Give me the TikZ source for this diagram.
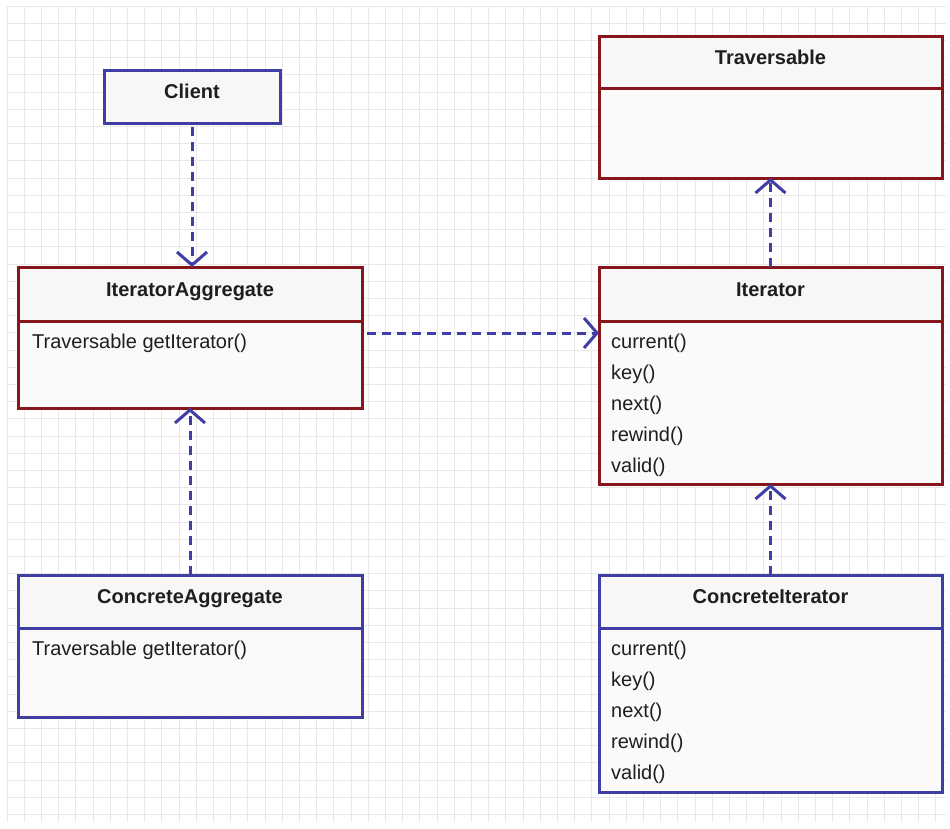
\documentclass[tikz,border=0pt]{standalone}
\usepackage{fontspec}
\setmainfont{Liberation Sans}
\usetikzlibrary{arrows.meta,positioning}

\definecolor{umlblue}{RGB}{62,62,165}
\definecolor{umlred}{RGB}{135,22,28}
\definecolor{umltext}{RGB}{30,30,30}

\begin{document}
\begin{tikzpicture}[
  x=1pt, y=-1pt,
  gridline/.style={draw=black!9, line width=0.8pt},
  head/.style={draw, line width=3pt, fill=white!97!black, minimum width=344pt,
    minimum height=54pt, inner sep=0pt, outer sep=0pt, text=umltext,
    text height=14pt, text depth=10pt,
    font=\fontsize{20}{24}\selectfont\bfseries},
  body/.style={draw, line width=3pt, fill=white!98!black, minimum width=344pt,
    inner sep=0pt, outer sep=0pt},
  ops/.style={anchor=north west, inner sep=0pt, align=left, text=umltext,
    font=\fontsize{20}{31}\selectfont},
  arr/.style={-{Straight Barb[length=13pt,width=30pt]}, umlblue, line width=3pt,
    dash pattern=on 9pt off 6pt},
  node distance=0pt
]
\useasboundingbox (0,0) rectangle (950,828);
\fill[white] (0,0) rectangle (950,828);
% background grid
\foreach \gx in {7,24.2,...,947} \draw[gridline] (\gx,6) -- (\gx,822);
\foreach \gy in {6,23.2,...,823} \draw[gridline] (6,\gy) -- (946,\gy);

% left column
\node[head, draw=umlblue, minimum width=176pt, minimum height=53pt, anchor=north west]
  (client) at (104,70) {Client};
\node[head, draw=umlred, anchor=north west] (iaggHead) at (18,267) {IteratorAggregate};
\node[body, draw=umlred, minimum height=87pt, below=of iaggHead] (iaggBody) {};
\node[ops] (iaggOps) at ([xshift=14pt,yshift=-13pt]iaggBody.north west)
  {Traversable getIterator()};
\node[head, draw=umlblue, minimum height=53pt, anchor=north west] (caggHead) at (18,575)
  {ConcreteAggregate};
\node[body, draw=umlblue, minimum height=89pt, below=of caggHead] (caggBody) {};
\node[ops] (caggOps) at ([xshift=14pt,yshift=-13pt]caggBody.north west)
  {Traversable getIterator()};

% right column
\node[head, draw=umlred, minimum width=343pt, minimum height=52pt, anchor=north west]
  (travHead) at (599,36) {Traversable};
\node[body, draw=umlred, minimum width=343pt, minimum height=90pt, below=of travHead]
  (travBody) {};
\node[head, draw=umlred, minimum width=343pt, anchor=north west] (iterHead) at (599,267)
  {Iterator};
\node[body, draw=umlred, minimum width=343pt, minimum height=163pt, below=of iterHead]
  (iterBody) {};
\node[ops] (iterOps) at ([xshift=12pt,yshift=-13pt]iterBody.north west)
  {current()\\key()\\next()\\rewind()\\valid()};
\node[head, draw=umlblue, minimum width=343pt, minimum height=53pt, anchor=north west]
  (citerHead) at (599,575) {ConcreteIterator};
\node[body, draw=umlblue, minimum width=343pt, minimum height=164pt, below=of citerHead]
  (citerBody) {};
\node[ops] (citerOps) at ([xshift=12pt,yshift=-13pt]citerBody.north west)
  {current()\\key()\\next()\\rewind()\\valid()};

% dependencies
\coordinate (aggOut) at ([xshift=5pt,yshift=-12pt]iaggBody.north east);
\draw[arr] ([yshift=-4pt]client.south) -- (client.south |- iaggHead.north);
\draw[arr] (aggOut) -- (aggOut -| iterBody.west);
\draw[arr] (iterHead.north) -- (travBody.south);
\draw[arr] (caggHead.north) -- (iaggBody.south);
\draw[arr] (citerHead.north) -- (iterBody.south);
\end{tikzpicture}
\end{document}
